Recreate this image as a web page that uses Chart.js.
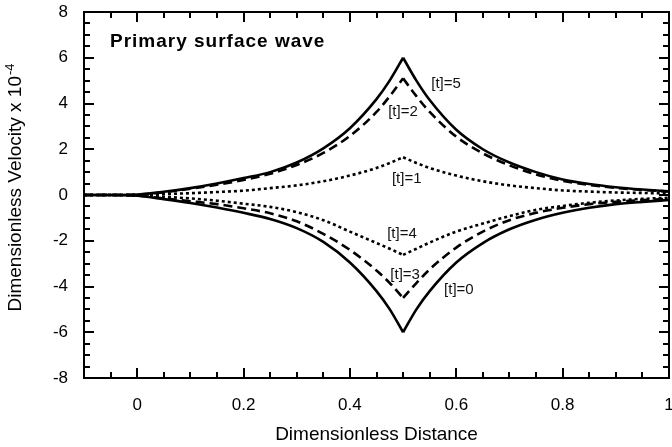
<!DOCTYPE html>
<html><head><meta charset="utf-8">
<script src="https://cdn.jsdelivr.net/npm/chart.js@4/dist/chart.umd.min.js"></script>
<style>html,body{margin:0;padding:0;background:#fff;}#wrap{width:672px;height:447px;}</style>
</head><body><div id="wrap"><canvas id="c" width="672" height="447"></canvas></div>
<script>
// ---- data ----
const xValues = [-0.1,-0.05,0,0.05,0.1,0.15,0.2,0.25,0.3,0.35,0.4,0.45,0.475,0.5,0.525,0.55,0.6,0.65,0.7,0.75,0.8,0.85,0.9,0.95,1.0];
const velT5 = [0,0,0.02,0.14,0.3,0.5,0.74,1.0,1.42,2.04,2.92,4.19,5.01,6.0,5.0,4.15,2.85,2.0,1.42,1.0,0.68,0.48,0.34,0.24,0.16];
const velT2 = [0,0,0.02,0.12,0.27,0.45,0.66,0.93,1.31,1.84,2.58,3.63,4.32,5.1,4.32,3.63,2.55,1.82,1.3,0.9,0.62,0.44,0.31,0.22,0.15];
const velT1 = [0,0,0,0.04,0.08,0.13,0.19,0.3,0.42,0.6,0.85,1.18,1.4,1.65,1.4,1.18,0.85,0.6,0.42,0.3,0.2,0.15,0.11,0.09,0.07];
const velT4 = [0,0,-0.02,-0.08,-0.15,-0.25,-0.38,-0.52,-0.75,-1.1,-1.6,-2.1,-2.35,-2.62,-2.35,-2.08,-1.6,-1.25,-0.92,-0.65,-0.48,-0.34,-0.24,-0.17,-0.12];
const velT3 = [0,0,-0.03,-0.15,-0.27,-0.4,-0.58,-0.8,-1.15,-1.7,-2.4,-3.3,-3.85,-4.5,-3.85,-3.25,-2.3,-1.6,-1.1,-0.78,-0.56,-0.4,-0.3,-0.22,-0.17];
const velT0 = [0,0,-0.03,-0.18,-0.35,-0.55,-0.78,-1.05,-1.45,-2.05,-2.95,-4.2,-5.0,-6.0,-5.0,-4.2,-2.95,-2.1,-1.5,-1.08,-0.78,-0.56,-0.4,-0.3,-0.22];
const seriesNames = ['[t]=5','[t]=2','[t]=1','[t]=4','[t]=3','[t]=0'];
const xTicks = [0,0.2,0.4,0.6,0.8,1];
const yTicks = [-8,-6,-4,-2,0,2,4,6,8];
const cuspX = 0.5;
const plotTitle = 'Primary surface wave';
const xTitle = 'Dimensionless Distance';
const yTitleMain = 'Dimensionless Velocity x 10';
const yTitleSup = '-4';
// label anchors (data coordinates)
const labelX = [0.553,0.472,0.479,0.470,0.476,0.577];
const labelY = [4.85,3.62,0.72,-1.71,-3.50,-4.15];

// ---- styles ----
const FONT = "'Liberation Sans', Arial, sans-serif";
const styleOf = {
  '[t]=5': [], '[t]=0': [],
  '[t]=2': [9,5], '[t]=3': [9,5],
  '[t]=1': [3,3], '[t]=4': [3,3]
};
const seriesValues = [velT5, velT2, velT1, velT4, velT3, velT0];

const datasets = [];
seriesNames.forEach((name, si) => {
  const vals = seriesValues[si];
  const left = [], right = [];
  xValues.forEach((xv, i) => {
    if (xv <= cuspX) left.push({x: xv, y: vals[i]});
    if (xv >= cuspX) right.push({x: xv, y: vals[i]});
  });
  [left, right].forEach(part => datasets.push({
    label: name, data: part, borderColor: '#000', borderWidth: 2.6,
    borderDash: styleOf[name], pointRadius: 0, fill: false,
    cubicInterpolationMode: 'monotone', borderCapStyle: 'butt'
  }));
});

const framePlugin = {
  id: 'frame',
  afterDraw(chart) {
    const {ctx, chartArea: a, scales: {x, y}} = chart;
    ctx.save();
    ctx.strokeStyle = '#000'; ctx.lineWidth = 2;
    ctx.strokeRect(a.left, a.top, a.right - a.left, a.bottom - a.top);
    ctx.beginPath();
    for (let i = -2; i <= 20; i++) {
      const px = Math.round(x.getPixelForValue(i * 0.05));
      const len = (i % 4 === 0) ? 10 : 6;
      ctx.moveTo(px, a.bottom); ctx.lineTo(px, a.bottom - len);
      ctx.moveTo(px, a.top); ctx.lineTo(px, a.top + len);
    }
    for (let i = -16; i <= 16; i++) {
      const py = Math.round(y.getPixelForValue(i * 0.5));
      const len = (i % 4 === 0) ? 10 : 6;
      ctx.moveTo(a.left, py); ctx.lineTo(a.left + len, py);
      ctx.moveTo(a.right, py); ctx.lineTo(a.right - len, py);
    }
    ctx.stroke();
    // series labels
    ctx.fillStyle = '#111';
    ctx.font = '15px ' + FONT;
    ctx.textBaseline = 'middle'; ctx.textAlign = 'left';
    seriesNames.forEach((n, i) => {
      ctx.fillText(n, x.getPixelForValue(labelX[i]), y.getPixelForValue(labelY[i]));
    });
    // plot title inside the frame
    ctx.fillStyle = '#000';
    ctx.font = 'bold 19px ' + FONT;
    try { ctx.letterSpacing = '1px'; } catch (e) {}
    ctx.fillText(plotTitle, 110, 42);
    try { ctx.letterSpacing = '0px'; } catch (e) {}
    // y axis title with superscript
    ctx.translate(21, 188);
    ctx.rotate(-Math.PI / 2);
    ctx.textBaseline = 'alphabetic';
    ctx.font = '19px ' + FONT;
    const wMain = ctx.measureText(yTitleMain).width;
    ctx.font = '13px ' + FONT;
    const wSup = ctx.measureText(yTitleSup).width;
    const start = -(wMain + wSup) / 2;
    ctx.font = '19px ' + FONT;
    ctx.fillText(yTitleMain, start, 0);
    ctx.font = '13px ' + FONT;
    ctx.fillText(yTitleSup, start + wMain + 1, -7);
    ctx.restore();
  }
};

new Chart(document.getElementById('c'), {
  type: 'line',
  data: { datasets },
  options: {
    responsive: false, animation: false, devicePixelRatio: 1,
    layout: { padding: { top: 12, right: 3, left: 0, bottom: 0 } },
    plugins: { legend: { display: false }, tooltip: { enabled: false } },
    scales: {
      x: {
        type: 'linear', min: -0.1, max: 1.0,
        grid: { display: false, drawTicks: false }, border: { display: false },
        afterBuildTicks: s => { s.ticks = xTicks.map(v => ({ value: v })); },
        afterFit: s => { s.height = 69; s.paddingLeft = 0; s.paddingRight = 0; },
        ticks: { padding: 17, color: '#000', font: { family: FONT, size: 17 }, maxRotation: 0, autoSkip: false,
                 callback: v => String(v) },
        title: { display: true, text: xTitle, color: '#000', font: { family: FONT, size: 19 }, padding: { top: 0, bottom: 1 } }
      },
      y: {
        type: 'linear', min: -8, max: 8,
        grid: { display: false, drawTicks: false }, border: { display: false },
        afterBuildTicks: s => { s.ticks = yTicks.map(v => ({ value: v })); },
        afterFit: s => { s.width = 84; s.paddingTop = 0; s.paddingBottom = 0; },
        ticks: { padding: 16, color: '#000', font: { family: FONT, size: 17 }, autoSkip: false,
                 callback: v => String(v) }
      }
    }
  },
  plugins: [framePlugin]
});
</script></body></html>
